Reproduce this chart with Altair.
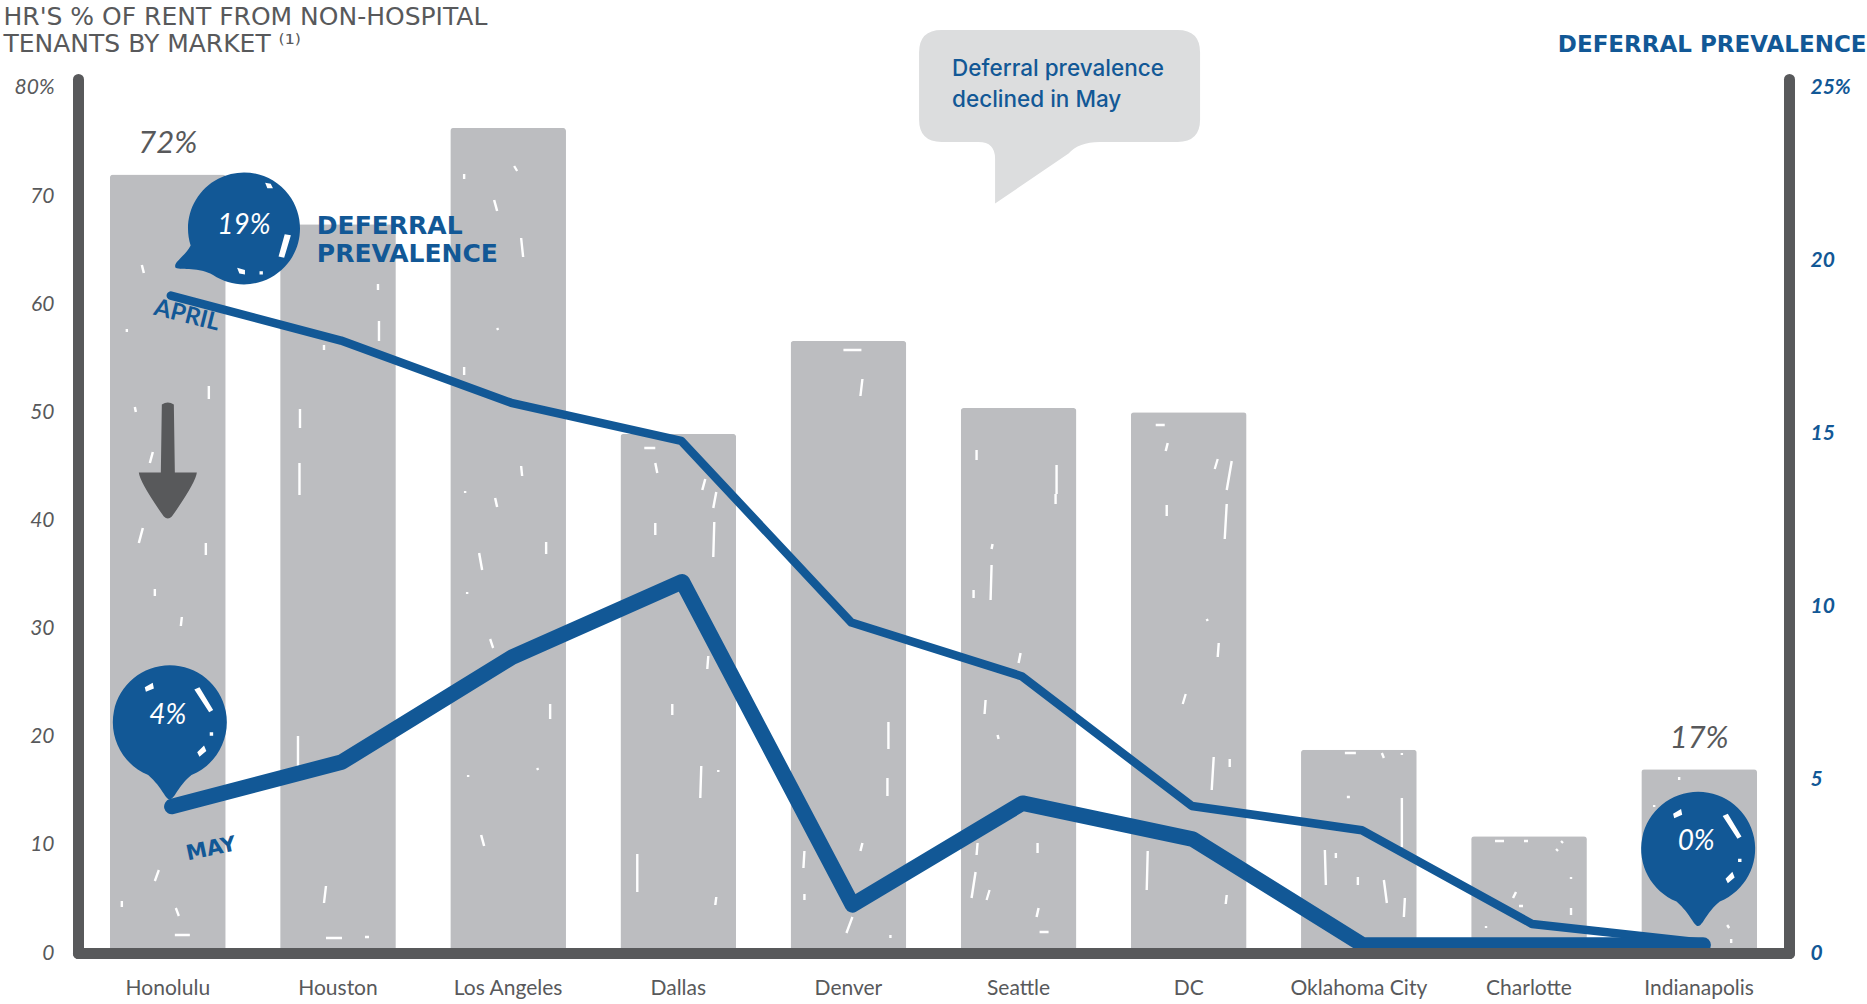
import altair as alt
import pandas as pd

markets = ["Honolulu", "Houston", "Los Angeles", "Dallas", "Denver", "Seattle", "DC",
           "Oklahoma City", "Charlotte", "Indianapolis"]
rent_share = [72, 67.4, 76.3, 48, 56.6, 50.4, 50, 18.8, 10.8, 17]
april = [19, 17.7, 15.9, 14.8, 9.55, 8.0, 4.25, 3.55, 0.84, 0.3]
may = [4, 5.29, 8.32, 10.5, 1.16, 4.1, 3.06, 0, 0, 0]
left_ticks = [0, 10, 20, 30, 40, 50, 60, 70, 80]
right_ticks = [0, 5, 10, 15, 20, 25]

GREY = "#58595b"
BAR = "#bcbdc0"
BLUE = "#125896"
CALLOUT = "#dcddde"
HAND = "Lato"
BLOCK = "DejaVu Sans"

df = pd.DataFrame({"market": markets, "share": rent_share, "april": april, "may": may})

X = alt.X("market:N", sort=markets, title=None,
          scale=alt.Scale(paddingInner=0.32, paddingOuter=0.188),
          axis=alt.Axis(domainColor=GREY, domainWidth=11, domainCap="round", ticks=False,
                        labelAngle=0, labelFont=HAND, labelFontSize=21, labelColor=GREY,
                        labelPadding=24, zindex=1, grid=False))
share_scale = alt.Scale(domain=[0, 80.83], nice=False)
rate_scale = alt.Scale(domain=[0, 25.26], nice=False)


def y_share(field="share", **kw):
    return alt.Y(f"{field}:Q", scale=share_scale, axis=kw.get("axis"), title=None)


def y_rate(field, **kw):
    return alt.Y(f"{field}:Q", scale=rate_scale, axis=kw.get("axis"), title=None)


left_axis = alt.Axis(values=left_ticks, orient="left", domainColor=GREY, domainWidth=11, domainCap="round",
                     ticks=False, grid=False, labelFont=HAND, labelFontStyle="italic", labelFontSize=21,
                     labelColor=GREY, labelPadding=24,
                     labelExpr="datum.value == 80 ? '80%' : datum.label",
                     title=["HR'S % OF RENT FROM NON-HOSPITAL", "TENANTS BY MARKET ⁽¹⁾"],
                     titleX=-75, titleY=-55, titleAngle=0, titleAlign="left", titleBaseline="alphabetic",
                     titleFont=BLOCK, titleFontSize=25, titleFontWeight="normal", titleColor=GREY,
                     titleLineHeight=27)
right_axis = alt.Axis(values=right_ticks, orient="right", domainColor=GREY, domainWidth=11, domainCap="round",
                      ticks=False, grid=False, labelFont=HAND, labelFontStyle="italic", labelFontSize=21,
                      labelFontWeight="bold", labelColor=BLUE, labelPadding=21,
                      labelExpr="datum.value == 25 ? '25%' : datum.label",
                      title="DEFERRAL PREVALENCE",
                      titleX=77, titleY=-28, titleAngle=0, titleAlign="right", titleBaseline="alphabetic",
                      titleFont=BLOCK, titleFontSize=23, titleFontWeight="bold", titleColor=BLUE)

# Bubble outlines are unit-radius paths; the symbol size sets their drawn radius.
PIN = "M0 1.35 C-0.08 1.35 -0.12 1.15 -0.38 0.92 A1 1 0 1 1 0.38 0.92 C0.15 1.1 0.08 1.35 0 1.35 Z"
SPEECH = "M-1.22 0.7 C-1.27 0.6 -1.05 0.5 -0.95 0.3 A1 1 0 1 1 -0.55 0.83 C-0.8 0.68 -1.1 0.75 -1.22 0.7 Z"
PIN_SHINE = ("M0.43 -0.58 L0.52 -0.62 L0.76 -0.22 L0.69 -0.18 Z "
             "M-0.44 -0.62 L-0.3 -0.7 L-0.28 -0.6 L-0.42 -0.54 Z "
             "M0.7 0.17 L0.76 0.17 L0.76 0.23 L0.7 0.23 Z "
             "M0.48 0.52 L0.6 0.4 L0.64 0.5 L0.52 0.6 Z")
SPEECH_SHINE = ("M0.73 0.1 L0.84 0.12 L0.72 0.52 L0.62 0.5 Z "
                "M0.38 -0.82 L0.48 -0.8 L0.52 -0.72 L0.42 -0.72 Z "
                "M-0.12 0.7 L0.02 0.74 L0.02 0.82 L-0.08 0.8 Z "
                "M0.28 0.76 L0.34 0.76 L0.34 0.82 L0.28 0.82 Z")
# Drawn 1:1 in pixels around the anchor point (symbol size 4).
CALLOUT_BOX = ("M-77 -144.6 L159 -144.6 Q181.5 -144.6 181.5 -122 L181.5 -55 Q181.5 -32.6 159 -32.6 "
               "L81 -32.6 Q60 -32.6 50 -21 L-23.5 29 L-23.5 -16 Q-23.5 -32.6 -40 -32.6 L-77 -32.6 "
               "Q-99.5 -32.6 -99.5 -55 L-99.5 -122 Q-99.5 -144.6 -77 -144.6 Z")
ARROW = ("M-6 -56 Q0 -60 6 -56 L7 12 L29 12 Q28 22 4 56 Q0 60 -4 56 Q-28 22 -29 12 L-7 12 Z")

# Chalky gaps in the bar fill: short strokes (dx1, h1, dx2, h2) measured from each bar's foot.
GAPS = {
    "Honolulu": [(-26, 688, -24, 680), (-33, 546, -32, 541), (41, 567, 41, 554), (-15, 501, -18, 490),
                 (-25, 425, -29, 410), (38, 410, 38, 398), (-13, 364, -13, 357), (14, 336, 13, 327),
                 (-9, 83, -13, 72), (8, 45, 11, 37), (7, 18, 22, 18), (-46, 52, -46, 46), (-41, 624, -41, 621)],
    "Houston": [(40, 669, 40, 663), (41, 632, 41, 612), (-38, 544, -38, 525), (-38.5, 490, -38.5, 458),
                (-14, 608, -14, 603), (-40, 217, -40, 182), (-12, 67, -14, 50), (-12, 15, 4, 15), (27, 16, 31, 16)],
    "Los Angeles": [(-44, 779, -44, 774), (6, 787, 9, 782), (-14, 753, -11, 742), (13, 715, 15, 696),
                    (-11, 625, -10, 623), (-44, 586, -44, 578), (13, 487, 14, 477), (-43, 462, -43, 460),
                    (-13, 455, -11, 446), (38, 411, 38, 399), (-29, 400, -26, 383), (-41, 361, -41, 359),
                    (-18, 314, -15, 305), (42, 249, 42, 234), (-40, 178, -40, 176), (29, 185, 30, 183),
                    (-27, 118, -24, 107)],
    "Dallas": [(-23, 490, -21, 480), (27, 474, 24, 463), (38, 461, 35, 445), (-23, 430, -23, 418),
               (36, 431, 35, 396), (-34, 505, -23, 505), (-6, 249, -6, 238), (23, 187, 22, 155),
               (40, 183, 40, 181), (-41, 99, -41, 61), (38, 56, 37, 48), (30, 297, 29, 284)],
    "Denver": [(14, 574, 12, 557), (-5, 603, 13, 603), (40, 231, 40, 204), (39, 175, 39, 157),
               (-44, 102, -45, 85), (4, 36, -2, 20), (-44, 59, -44, 53), (14, 110, 12, 102), (42, 18, 42, 15)],
    "Seattle": [(-42, 503, -42, 493), (38, 488, 38, 459), (37, 459, 37, 449), (-26, 409, -27, 404),
                (-27, 388, -28, 353), (-45, 363, -45, 355), (2, 300, 0, 290), (-33, 253, -34, 239),
                (-21, 218, -20, 214), (19, 110, 19, 100), (-41, 110, -42, 98), (-43, 81, -47, 55),
                (-29, 63, -32, 53), (20, 45, 18, 36), (21, 21, 30, 21)],
    "DC": [(-33, 528, -24, 528), (-21, 510, -23, 502), (29, 494, 26, 484), (43, 492, 38, 463),
           (-22, 448, -22, 437), (38, 449, 36, 414), (18, 334, 19, 332), (30, 310, 29, 296),
           (-3, 259, -6, 249), (25, 196, 23, 163), (41, 194, 41, 186), (-41, 102, -42, 63), (38, 58, 37, 49)],
    "Oklahoma City": [(-14, 200, -3, 200), (23, 200, 25, 195), (43, 200, 43, 198), (-12, 156, -9, 156),
                      (43, 155, 43, 106), (-34, 103, -33, 68), (-23, 100, -23, 95), (-1, 76, -1, 68),
                      (25, 73, 28, 50), (46, 55, 45, 36)],
    "Charlotte": [(-34, 112, -25, 112), (-5, 112, -1, 112), (32, 112, 34, 110), (27, 104, 29, 102),
                  (42, 76, 42, 74), (-13, 61, -16, 55), (-10, 47, -6, 47), (42, 45, 42, 38), (-43, 27, -43, 25)],
    "Indianapolis": [(-20, 176, -20, 173), (-45, 148, -45, 146), (28, 28, 30, 25), (32, 14, 32, 10)],
}


def gap_path(strokes, half=1.2):
    parts = []
    for x1, h1, x2, h2 in strokes:
        y1, y2 = -h1, -h2
        length = max(((x2 - x1) ** 2 + (y2 - y1) ** 2) ** 0.5, 1)
        nx, ny = -(y2 - y1) / length * half, (x2 - x1) / length * half
        parts.append(f"M{x1 + nx:.1f} {y1 + ny:.1f} L{x2 + nx:.1f} {y2 + ny:.1f} "
                     f"L{x2 - nx:.1f} {y2 - ny:.1f} L{x1 - nx:.1f} {y1 - ny:.1f} Z")
    return " ".join(parts)


bars = alt.Chart(df).mark_bar(color=BAR, cornerRadius=3).encode(x=X, y=y_share(axis=left_axis))
gaps = [alt.Chart(pd.DataFrame({"market": [m], "foot": [0]})).mark_point(
    shape=gap_path(strokes), size=4, filled=True, opacity=1, color="white", strokeWidth=0).encode(
    x=X, y=y_share("foot")) for m, strokes in GAPS.items()]
april_line = alt.Chart(df).mark_line(color=BLUE, strokeWidth=8.5, strokeCap="round", strokeJoin="round",
                                     xOffset=3).encode(x=X, y=y_rate("april", axis=right_axis))
may_line = alt.Chart(df).mark_line(color=BLUE, strokeWidth=15.5, strokeCap="round", strokeJoin="round",
                                   xOffset=4, yOffset=-8).encode(x=X, y=y_rate("may"))

ends = df[df.market.isin(["Honolulu", "Indianapolis"])]
bar_labels = alt.Chart(ends).transform_calculate(t="datum.share + '%'").mark_text(
    font=HAND, fontStyle="italic", fontSize=31, color=GREY, baseline="alphabetic", dy=-21).encode(
    x=X, y=y_share(), text="t:N")


def bubble(rows, field, path, shine, radius, dx, dy, text_dx, text_dy):
    base = alt.Chart(rows)
    size = (2 * radius) ** 2
    body = base.mark_point(shape=path, size=size, filled=True, opacity=1, color=BLUE, strokeWidth=0,
                           xOffset=dx, yOffset=dy).encode(x=X, y=y_rate(field))
    gloss = base.mark_point(shape=shine, size=size, filled=True, opacity=1, color="white", strokeWidth=0,
                            xOffset=dx, yOffset=dy).encode(x=X, y=y_rate(field))
    label = base.transform_calculate(t=f"datum.{field} + '%'").mark_text(
        font=HAND, fontStyle="italic", fontSize=28, color="white", dx=dx + text_dx, dy=dy + text_dy).encode(
        x=X, y=y_rate(field), text="t:N")
    return [body, gloss, label]


honolulu = df[df.market == "Honolulu"]
indy = df[df.market == "Indianapolis"]
bubbles = (bubble(honolulu, "april", SPEECH, SPEECH_SHINE, 56, 76, -67, 0, -3)
           + bubble(honolulu, "may", PIN, PIN_SHINE, 57, 2, -92, -2, -7)
           + bubble(indy, "may", PIN, PIN_SHINE, 57, -1, -104, -2, -7))

notes = pd.DataFrame({"market": ["Honolulu"] * 4 + ["Seattle"],
                      "y": [19, 19, 19, 4, 72],
                      "note": ["DEFERRAL", "PREVALENCE", "APRIL", "MAY", "Deferral prevalence\ndeclined in May"]})


def note(text, dx, dy, size, angle=0, font=BLOCK):
    return alt.Chart(notes[notes.note == text]).mark_text(
        font=font, fontSize=size, fontWeight="bold", color=BLUE, align="left", baseline="alphabetic",
        dx=dx, dy=dy, angle=angle).encode(x=X, y=y_rate("y"), text="note:N")


texts = [note("DEFERRAL", 149, -62, 25), note("PREVALENCE", 149, -34, 25),
         note("APRIL", -10, 22, 24, 14, HAND), note("MAY", 10, 49, 21, 348, BLOCK)]

callout_anchor = notes[notes.market == "Seattle"]
callout = alt.Chart(callout_anchor).mark_point(shape=CALLOUT_BOX, size=4, filled=True, opacity=1, color=CALLOUT,
                                               strokeWidth=0).encode(x=X, y=y_share("y"))
callout_text = alt.Chart(callout_anchor).mark_text(
    font="Inter", fontSize=22.5, fontWeight=500, color=BLUE, align="left", baseline="alphabetic",
    lineBreak="\n", lineHeight=31, dx=-66.5, dy=-98.6).encode(x=X, y=y_share("y"), text="note:N")

arrow = alt.Chart(honolulu).mark_point(shape=ARROW, size=4, filled=True, opacity=1, color=GREY, strokeWidth=0,
                                       yOffset=165).encode(x=X, y=y_rate("april"))

chart = alt.layer(bars, *gaps, bar_labels, callout, callout_text, april_line, may_line, arrow, *bubbles, *texts).resolve_scale(
    y="independent"
).properties(
    width=1711, height=874, autosize="none", background="white",
    padding={"left": 78, "top": 79, "right": 78, "bottom": 51}
).configure_view(stroke=None)

chart.save("out.html", embed_options={"renderer": "svg", "actions": False})
